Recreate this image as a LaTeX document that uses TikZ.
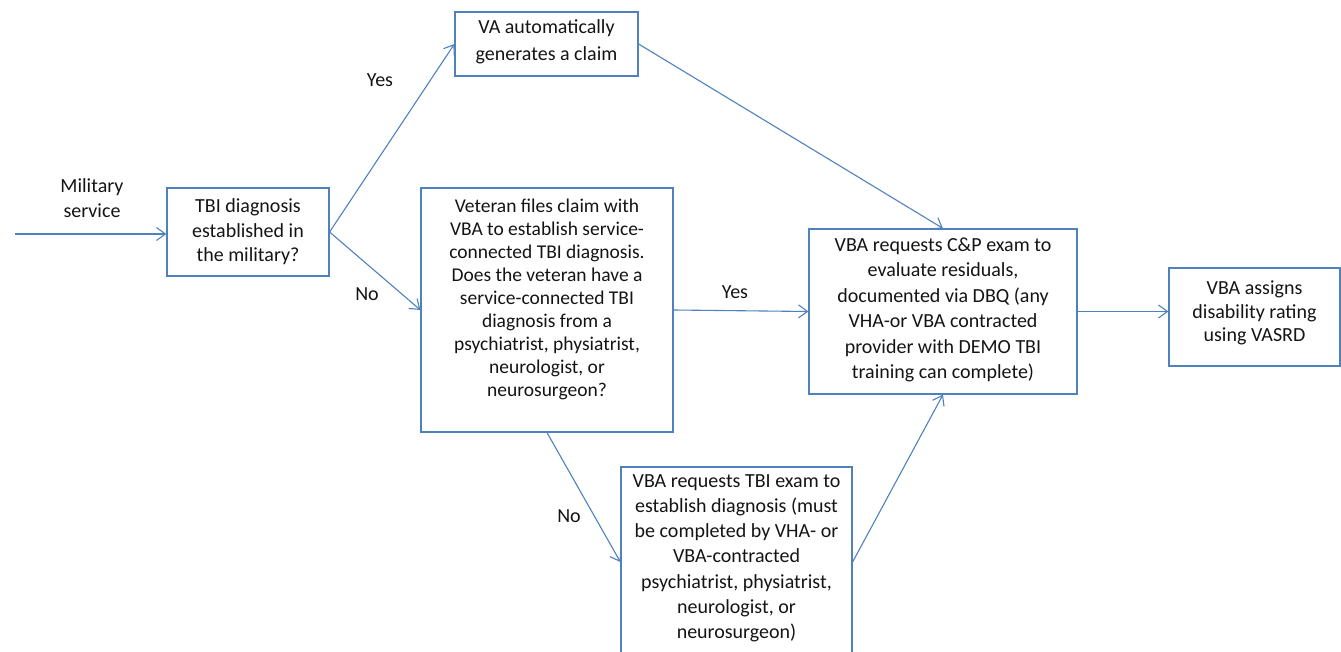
\documentclass[tikz,border=0pt]{standalone}
\usepackage{fontspec}
\setmainfont{Carlito}
\usetikzlibrary{arrows.meta}
\definecolor{lineblue}{RGB}{79,129,189}
\definecolor{txt}{RGB}{20,20,20}
\tikzset{
  box/.style={draw=lineblue, line width=1.2pt, inner sep=0pt, rectangle},
  txtnode/.style={align=center, inner sep=0pt, text=txt, font=\fontsize{20}{24.5}\selectfont},
  lbl/.style={inner sep=0pt, text=txt, font=\fontsize{20}{24.5}\selectfont, align=center},
  conn/.style={draw=lineblue, line width=1.1pt, -{Straight Barb[length=9pt,width=13pt,line width=1.1pt]}}
}
\begin{document}
\begin{tikzpicture}[x=1pt,y=-1pt]
\useasboundingbox (0,0) rectangle (1341,652);
\clip (0,0) rectangle (1341,652);
% boxes
\node[box, minimum width=162pt, minimum height=88pt] (tbi) at (248,232) {};
\node[txtnode] (tbit) at (248,232) {TBI diagnosis\\established in\\the military?};
\node[box, minimum width=183pt, minimum height=64pt] (va) at (546.5,44) {};
\node[txtnode, font=\fontsize{20}{27}\selectfont] (vat) at (546.5,42) {VA automatically\\generates a claim};
\node[box, minimum width=252pt, minimum height=244pt] (vet) at (547,310) {};
\node[txtnode, font=\fontsize{19.5}{23}\selectfont] (vett) at (547,299) {Veteran files claim with\\VBA to establish service-\\connected TBI diagnosis.\\Does the veteran have a\\service-connected TBI\\diagnosis from a\\psychiatrist, physiatrist,\\neurologist, or\\neurosurgeon?};
\node[box, minimum width=268pt, minimum height=165pt] (cp) at (943,311.5) {};
\node[txtnode, font=\fontsize{20}{25.5}\selectfont] (cpt) at (943,310) {VBA requests C\&P exam to\\evaluate residuals,\\documented via DBQ (any\\VHA-or VBA contracted\\provider with DEMO TBI\\training can complete)};
\node[box, minimum width=171pt, minimum height=98pt] (vasrd) at (1254.5,317) {};
\node[txtnode, font=\fontsize{20}{23.5}\selectfont] (vasrdt) at (1254.5,313) {VBA assigns\\disability rating\\using VASRD};
\node[box, minimum width=231pt, minimum height=190pt] (exam) at (736.5,562) {};
\node[txtnode, font=\fontsize{20}{25.3}\selectfont, anchor=north] (examt) at (736.5,474) {VBA requests TBI exam to\\establish diagnosis (must\\be completed by VHA- or\\VBA-contracted\\psychiatrist, physiatrist,\\neurologist, or\\neurosurgeon)};
% labels
\node[lbl] (mil) at (92,198) {Military\\service};
\node[lbl] (yes1) at (380,80) {Yes};
\node[lbl] (no1) at (367,294) {No};
\node[lbl] (yes2) at (735,292) {Yes};
\node[lbl] (no2) at (569,516) {No};
% connectors
\coordinate (start) at (15,234);
\draw[conn] (start) -- (start -| tbi.west);
\draw[conn] (tbi.east) -- (va.west);
\draw[conn] (tbi.east) -- (vet.west);
\draw[conn] (va.east) -- (cp.north);
\draw[conn] (vet.east) -- (cp.west);
\draw[conn] (vet.south) -- (exam.west);
\draw[conn] (exam.east) -- (cp.south);
\draw[conn] (cp.east) -- (cp.east -| vasrd.west);
\end{tikzpicture}
\end{document}
